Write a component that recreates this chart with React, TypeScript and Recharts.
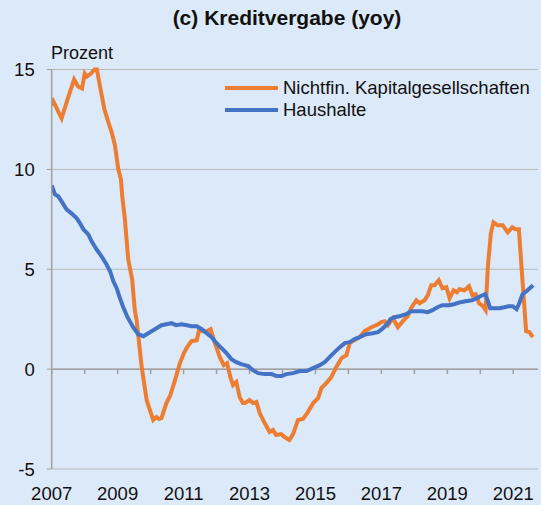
import React from 'react';
import { LineChart, Line, XAxis, YAxis, CartesianGrid, ReferenceLine } from 'recharts';

// Nichtfin. Kapitalgesellschaften, yoy in %
const nfcYears = [
  2007.0, 2007.05, 2007.3, 2007.5, 2007.68, 2007.8, 2007.92, 2008.0, 2008.07, 2008.19,
  2008.3, 2008.37, 2008.5, 2008.6, 2008.72, 2008.82, 2008.92, 2009.02, 2009.1, 2009.14,
  2009.22, 2009.32, 2009.44, 2009.52, 2009.58, 2009.73, 2009.88, 2009.98, 2010.08, 2010.18,
  2010.26, 2010.33, 2010.48, 2010.6, 2010.74, 2010.89, 2011.01, 2011.09, 2011.24, 2011.4,
  2011.47, 2011.55, 2011.7, 2011.82, 2011.95, 2012.1, 2012.22, 2012.32, 2012.42, 2012.5,
  2012.6, 2012.7, 2012.8, 2012.86, 2013.0, 2013.11, 2013.21, 2013.31, 2013.46, 2013.61,
  2013.71, 2013.81, 2013.96, 2014.06, 2014.21, 2014.32, 2014.47, 2014.62, 2014.77, 2014.93,
  2015.08, 2015.18, 2015.33, 2015.48, 2015.63, 2015.79, 2015.94, 2016.04, 2016.19, 2016.34,
  2016.49, 2016.7, 2016.85, 2017.0, 2017.1, 2017.2, 2017.35, 2017.5, 2017.65, 2017.8,
  2017.9, 2018.06, 2018.16, 2018.31, 2018.41, 2018.51, 2018.61, 2018.74, 2018.85, 2018.97,
  2019.07, 2019.19, 2019.29, 2019.37, 2019.52, 2019.66, 2019.76, 2019.86, 2019.96, 2020.08,
  2020.16, 2020.23, 2020.32, 2020.4, 2020.53, 2020.68, 2020.83, 2020.97, 2021.07, 2021.17,
  2021.27, 2021.39, 2021.49, 2021.59,
];
const nfcValues = [
  13.2, 13.4, 12.55, 13.6, 14.5, 14.15, 14.05, 14.8, 14.65, 14.8,
  15.0, 15.0, 13.85, 13.0, 12.35, 11.85, 11.2, 10.0, 9.5, 8.65,
  7.5, 5.5, 4.5, 2.95, 2.4, 0.1, -1.55, -2.05, -2.55, -2.4,
  -2.5, -2.45, -1.7, -1.3, -0.55, 0.3, 0.8, 1.05, 1.4, 1.45,
  1.95, 1.9, 1.9, 2.0, 1.3, 0.6, 0.2, 0.3, -0.4, -0.8,
  -0.65, -1.4, -1.7, -1.7, -1.55, -1.7, -1.65, -2.2, -2.7, -3.15,
  -3.05, -3.3, -3.25, -3.4, -3.55, -3.25, -2.55, -2.5, -2.15, -1.7,
  -1.45, -0.95, -0.7, -0.4, 0.1, 0.55, 0.7, 1.3, 1.45, 1.6,
  1.9, 2.1, 2.2, 2.35, 2.4, 2.2, 2.55, 2.1, 2.4, 2.65,
  3.05, 3.45, 3.3, 3.45, 3.7, 4.2, 4.2, 4.45, 4.05, 4.1,
  3.55, 3.95, 3.85, 4.0, 3.95, 4.15, 3.7, 3.75, 3.3, 3.15,
  2.95, 5.15, 6.8, 7.35, 7.2, 7.2, 6.85, 7.1, 7.0, 7.0,
  4.65, 1.9, 1.85, 1.6,
];

// Haushalte, yoy in %
const hhYears = [
  2007.0, 2007.1, 2007.2, 2007.3, 2007.45, 2007.6, 2007.76, 2007.86, 2007.96, 2008.11,
  2008.21, 2008.36, 2008.51, 2008.66, 2008.77, 2008.87, 2008.97, 2009.07, 2009.17, 2009.3,
  2009.47, 2009.62, 2009.78, 2009.93, 2010.08, 2010.23, 2010.33, 2010.48, 2010.63, 2010.77,
  2010.94, 2011.1, 2011.25, 2011.4, 2011.55, 2011.7, 2011.85, 2012.0, 2012.15, 2012.3,
  2012.45, 2012.6, 2012.75, 2012.96, 2013.1, 2013.26, 2013.46, 2013.67, 2013.82, 2013.97,
  2014.12, 2014.32, 2014.53, 2014.73, 2014.93, 2015.13, 2015.28, 2015.43, 2015.58, 2015.74,
  2015.89, 2016.04, 2016.19, 2016.34, 2016.54, 2016.74, 2016.9, 2017.05, 2017.2, 2017.27,
  2017.4, 2017.55, 2017.75, 2017.9, 2018.1, 2018.25, 2018.4, 2018.55, 2018.7, 2018.85,
  2019.05, 2019.2, 2019.4, 2019.55, 2019.75, 2019.9, 2020.0, 2020.15, 2020.22, 2020.3,
  2020.42, 2020.58, 2020.73, 2020.86, 2020.98, 2021.1, 2021.18, 2021.28, 2021.4, 2021.5,
  2021.6,
];
const hhValues = [
  9.2, 8.75, 8.65, 8.4, 8.0, 7.8, 7.55, 7.3, 7.0, 6.75,
  6.4, 6.0, 5.65, 5.25, 4.9, 4.4, 4.05, 3.55, 3.1, 2.6,
  2.1, 1.75, 1.65, 1.8, 1.95, 2.1, 2.2, 2.25, 2.3, 2.2,
  2.25, 2.2, 2.15, 2.15, 2.0, 1.8, 1.6, 1.3, 1.05, 0.8,
  0.5, 0.35, 0.25, 0.15, -0.05, -0.2, -0.25, -0.25, -0.35, -0.35,
  -0.25, -0.2, -0.1, -0.1, 0.05, 0.2, 0.35, 0.6, 0.85, 1.1,
  1.3, 1.35, 1.5, 1.6, 1.75, 1.8, 1.85, 2.05, 2.3, 2.5,
  2.6, 2.65, 2.75, 2.9, 2.9, 2.9, 2.85, 2.95, 3.1, 3.2,
  3.2, 3.25, 3.35, 3.4, 3.45, 3.55, 3.65, 3.75, 3.45, 3.05,
  3.05, 3.05, 3.1, 3.15, 3.15, 3.0, 3.3, 3.75, 3.9, 4.05,
  4.2,
];

const yTicks = [-5, 0, 5, 10, 15];
const xLabelYears = [2007, 2009, 2011, 2013, 2015, 2017, 2019, 2021];
const xTickYears = [2007, 2008, 2009, 2010, 2011, 2012, 2013, 2014, 2015, 2016, 2017, 2018, 2019, 2020, 2021];

const seriesNames = ['Nichtfin. Kapitalgesellschaften', 'Haushalte'];
const ORANGE = '#ed7d31';
const BLUE = '#4472c4';
const GRID = '#b8b8b8';
const FONT = '"Liberation Sans", Arial, sans-serif';

const nfcData = nfcYears.map((x, i) => ({ x, v: nfcValues[i] }));
const hhData = hhYears.map((x, i) => ({ x, v: hhValues[i] }));

const LegendBox = () => (
  <div style={{ position: 'absolute', top: 77, left: 222, fontSize: 18.5, color: '#111' }}>
    {[ORANGE, BLUE].map((c, i) => (
      <div key={i} style={{ display: 'flex', alignItems: 'center', height: 22 }}>
        <svg width={61} height={22}>
          <line x1={3} y1={11} x2={56} y2={11} stroke={c} strokeWidth={4} />
        </svg>
        <span>{seriesNames[i]}</span>
      </div>
    ))}
  </div>
);

const App: React.FC = () => {
  return (
    <div
      style={{
        position: 'absolute',
        left: 0,
        top: 0,
        width: 541,
        height: 505,
        background: '#dce9f8',
        fontFamily: FONT,
      }}
    >
      <div
        style={{
          position: 'absolute',
          top: 6,
          left: 0,
          width: 574,
          textAlign: 'center',
          fontSize: 21,
          fontWeight: 'bold',
          color: '#111',
        }}
      >
        (c) Kreditvergabe (yoy)
      </div>
      <div style={{ position: 'absolute', top: 43, left: 51, fontSize: 18, color: '#111' }}>Prozent</div>
      <LineChart width={541} height={505} margin={{ top: 69.5, right: 3, bottom: 6, left: 0 }}>
        <CartesianGrid horizontal vertical={false} stroke={GRID} />
        <XAxis
          dataKey="x"
          type="number"
          domain={[2007, 2021.75]}
          ticks={xLabelYears}
          allowDataOverflow
          axisLine={false}
          tickLine={false}
          tickSize={6}
          tickMargin={12}
          height={30}
          tick={{ fill: '#111', fontSize: 18.5, fontFamily: FONT }}
        />
        <YAxis
          type="number"
          domain={[-5, 15]}
          ticks={yTicks}
          width={51.7}
          axisLine={{ stroke: '#a0a0a0', strokeWidth: 1.5 }}
          tickLine={{ stroke: '#a0a0a0' }}
          tickSize={5}
          tickMargin={12}
          tick={{ fill: '#111', fontSize: 18.5, fontFamily: FONT }}
        />
        <ReferenceLine y={0} stroke="#a0a0a0" strokeWidth={1.5} />
        {xTickYears.map((yr) => (
          <ReferenceLine
            key={yr}
            segment={[{ x: yr, y: 0 }, { x: yr, y: -0.25 }]}
            stroke="#a0a0a0"
            strokeWidth={1.5}
          />
        ))}
        <Line
          data={nfcData}
          dataKey="v"
          name={seriesNames[0]}
          type="linear"
          stroke={ORANGE}
          strokeWidth={4}
          dot={false}
          isAnimationActive={false}
        />
        <Line
          data={hhData}
          dataKey="v"
          name={seriesNames[1]}
          type="linear"
          stroke={BLUE}
          strokeWidth={4}
          dot={false}
          isAnimationActive={false}
        />
      </LineChart>
      <LegendBox />
    </div>
  );
};

export default App;
